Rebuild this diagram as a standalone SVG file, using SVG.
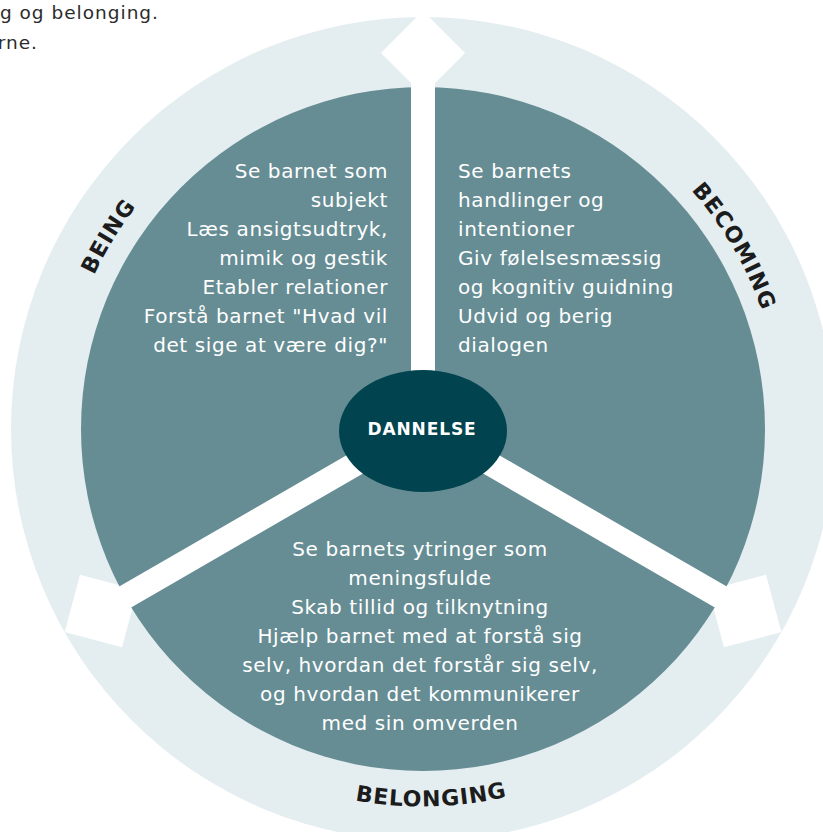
<svg xmlns="http://www.w3.org/2000/svg" width="823" height="832" viewBox="0 0 823 832">
  <style>
    .intro { font-family: "DejaVu Sans", "Liberation Sans", sans-serif; font-size: 18.5px; fill: #2b2b2b; letter-spacing: 1px; }
    .body { font-family: "DejaVu Sans", "Liberation Sans", sans-serif; font-size: 20px; fill: #ffffff; letter-spacing: 0.6px; }
    .arc-label { font-family: "DejaVu Sans", "Liberation Sans", sans-serif; font-size: 22px; font-weight: bold; fill: #1c1c1c; letter-spacing: 1px; }
    .hub-label { font-family: "DejaVu Sans", "Liberation Sans", sans-serif; font-size: 17px; font-weight: bold; fill: #ffffff; letter-spacing: 0.9px; }
    .spoke { stroke: #ffffff; stroke-width: 24; }
    .head { fill: #ffffff; }
  </style>
  <defs>
    <!-- diamond arrowhead, centred on its own origin -->
    <polygon id="diamond" points="-42,0 0,42 42,0 0,-42"/>
    <path id="arc-being" d="M64.0,482.7 A363,363 0 0 1 307.8,84.8" fill="none"/>
    <path id="arc-becoming" d="M543.4,90.8 A359,359 0 0 1 777.0,488.9" fill="none"/>
    <path id="arc-belonging" d="M186.4,723.6 A377,377 0 0 0 672.3,711.6" fill="none"/>
  </defs>

  <rect width="823" height="832" fill="#ffffff"/>

  <!-- trailing lines of the introduction text -->
  <text class="intro" x="159" y="19" text-anchor="end">g og belonging.</text>
  <text class="intro" x="38" y="49" text-anchor="end">rne.</text>

  <!-- outer pale ring -->
  <circle id="ring" cx="423" cy="429" r="412" fill="#e4eef1"/>

  <!-- arrowheads sit under the inner disc -->
  <g id="arrowheads" class="head">
    <use href="#diamond" transform="translate(423,53)"/>
    <use href="#diamond" transform="translate(101,611) rotate(-120)"/>
    <use href="#diamond" transform="translate(745,611) rotate(120)"/>
  </g>

  <!-- inner disc -->
  <circle id="disc" cx="423" cy="429" r="342" fill="#668d94"/>

  <!-- spokes dividing the disc into three parts -->
  <g id="connectors" class="spoke">
    <line x1="423" y1="425" x2="423" y2="60"/>
    <line x1="423" y1="425" x2="107" y2="607.5"/>
    <line x1="423" y1="425" x2="739" y2="607.5"/>
  </g>

  <!-- ring labels -->
  <g id="label-being">
    <text class="arc-label"><textPath href="#arc-being" startOffset="50%" text-anchor="middle">BEING</textPath></text>
  </g>
  <g id="label-becoming">
    <text class="arc-label"><textPath href="#arc-becoming" startOffset="50%" text-anchor="middle">BECOMING</textPath></text>
  </g>
  <g id="label-belonging">
    <text class="arc-label"><textPath href="#arc-belonging" startOffset="50%" text-anchor="middle">BELONGING</textPath></text>
  </g>

  <!-- being sector -->
  <g id="being" class="body" text-anchor="end">
    <text x="388" y="178">Se barnet som</text>
    <text x="388" y="207">subjekt</text>
    <text x="388" y="236">Læs ansigtsudtryk,</text>
    <text x="388" y="265">mimik og gestik</text>
    <text x="388" y="294">Etabler relationer</text>
    <text x="388" y="323">Forstå barnet "Hvad vil</text>
    <text x="388" y="352">det sige at være dig?"</text>
  </g>

  <!-- becoming sector -->
  <g id="becoming" class="body">
    <text x="458" y="178">Se barnets</text>
    <text x="458" y="207">handlinger og</text>
    <text x="458" y="236">intentioner</text>
    <text x="458" y="265">Giv følelsesmæssig</text>
    <text x="458" y="294">og kognitiv guidning</text>
    <text x="458" y="323">Udvid og berig</text>
    <text x="458" y="352">dialogen</text>
  </g>

  <!-- belonging sector -->
  <g id="belonging" class="body" text-anchor="middle">
    <text x="420" y="556">Se barnets ytringer som</text>
    <text x="420" y="585">meningsfulde</text>
    <text x="420" y="614">Skab tillid og tilknytning</text>
    <text x="420" y="643">Hjælp barnet med at forstå sig</text>
    <text x="420" y="672">selv, hvordan det forstår sig selv,</text>
    <text x="420" y="701">og hvordan det kommunikerer</text>
    <text x="420" y="730">med sin omverden</text>
  </g>

  <!-- hub -->
  <g id="dannelse">
    <ellipse cx="423" cy="431" rx="84" ry="61" fill="#01434f"/>
    <text class="hub-label" x="422" y="435" text-anchor="middle">DANNELSE</text>
  </g>
</svg>
